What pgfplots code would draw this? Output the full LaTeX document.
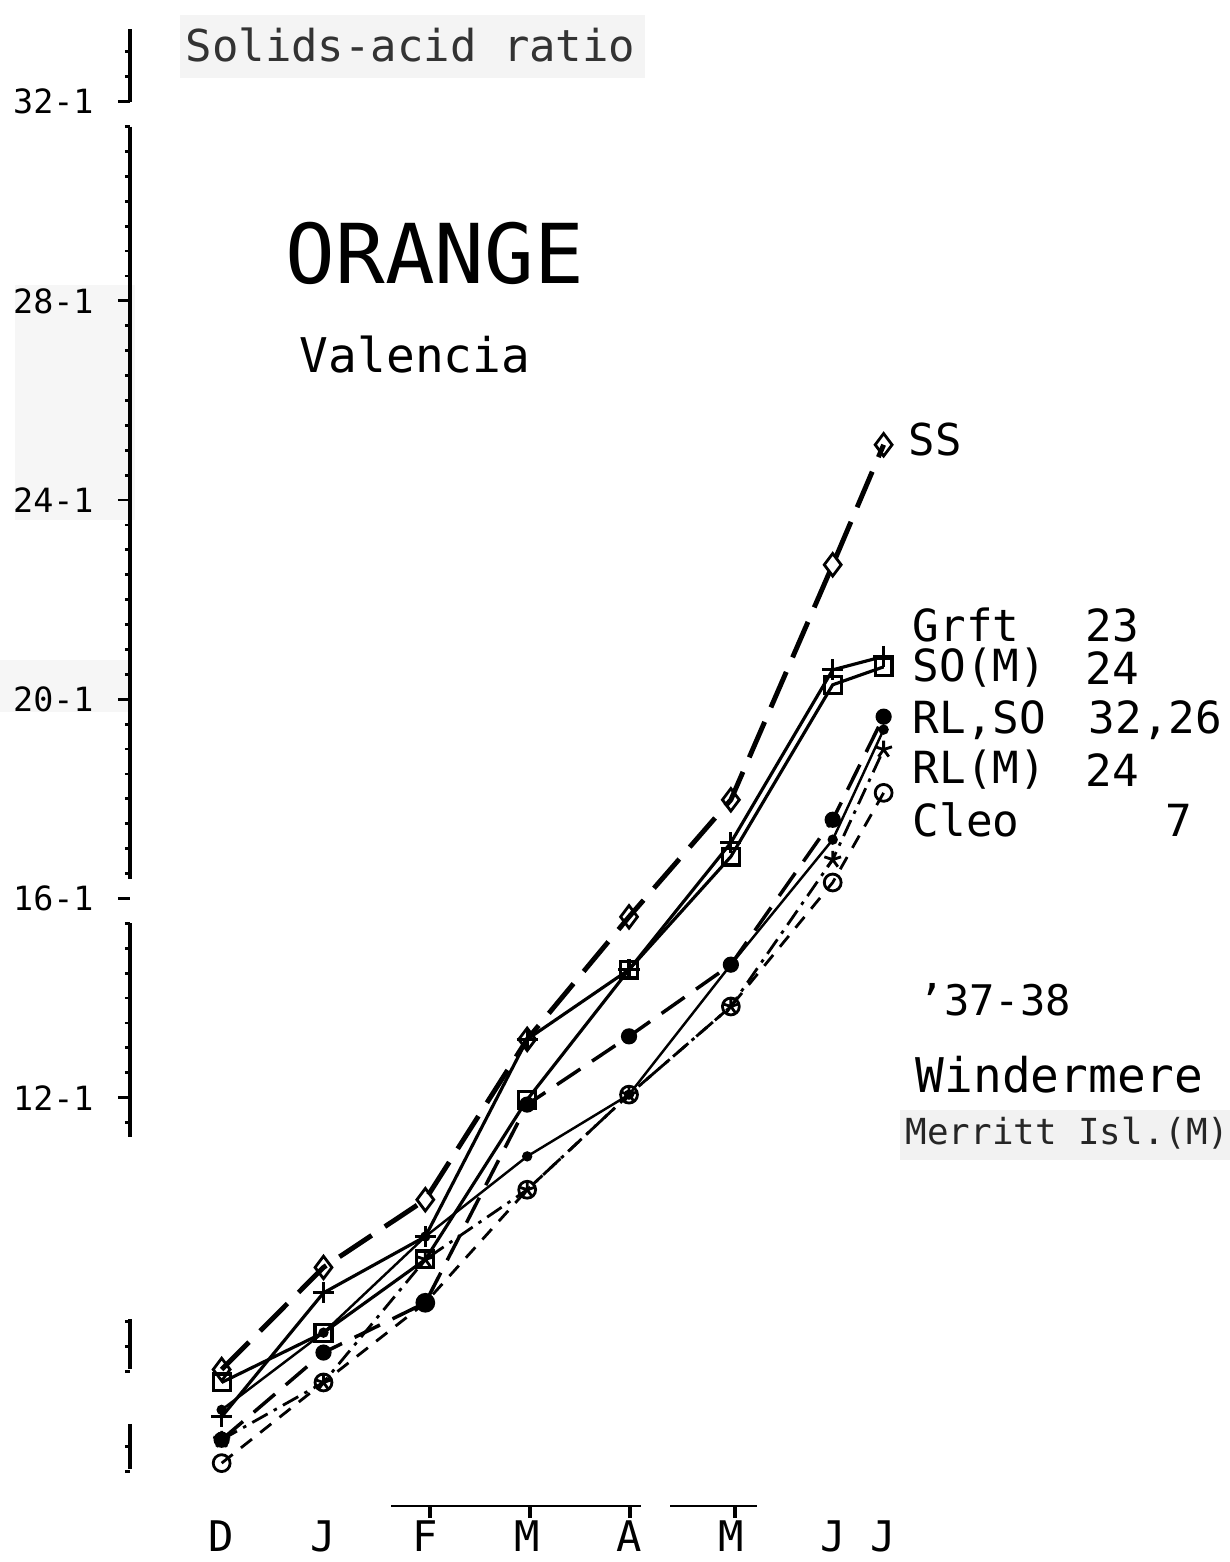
\documentclass[border=0pt]{standalone}
\usepackage{fontspec}
\setmainfont{DejaVu Sans Mono}
\setmonofont{DejaVu Sans Mono}
\usepackage{pgfplots}
\pgfplotsset{compat=1.18}

% solids-acid ratio, Valencia orange, '37-38
% x: 0=D 1=J 2=F 3=M 4=A 5=M 6=J 6.5=end
\pgfplotstableread{
x    SS     Grft   SOM    RL     SO     RLM    Cleo
0    6.54   5.59   6.28   5.13   5.73   5.13   4.66
1    8.59   8.08   7.28   6.88   7.28   6.28   6.28
2    9.95   9.21   8.75   7.88   9.21   8.75   7.88
3   13.17  13.17  11.96  11.86  10.82  10.15  10.15
4   15.63  14.57  14.57  13.23  12.06  12.06  12.06
5   17.98  17.12  16.84  14.67  14.67  13.83  13.83
6   22.70  20.59  20.29  17.58  17.18  16.78  16.32
6.5 25.11  20.86  20.65  19.65  19.39  18.99  18.12
}\ratios

\begin{document}
\begin{tikzpicture}
\path[use as bounding box] (0,0) rectangle (123mm,156.2mm);

% faint scan patches
\begin{scope}[x=0.1mm,y=-0.1mm,yshift=156.2mm]
  \fill[gray!7] (15,285) rectangle (135,520);
  \fill[gray!7] (0,660) rectangle (128,712);
  \fill[gray!9] (180,15) rectangle (645,78);
  \fill[gray!10] (900,1110) rectangle (1230,1160);
\end{scope}

\begin{axis}[
    at={(13mm,6.6mm)}, anchor=south west,
    scale only axis, width=77.4mm, height=146.9mm,
    xmin=-0.9, xmax=6.7, ymin=4, ymax=33.5,
    clip=false,
    axis line style={draw=none},
    xtick={0,1,2,3,4,5,6,6.5},
    xticklabels={D,J,F,M,A,M,J,J},
    xtick style={draw=none},
    xticklabel style={font=\fontsize{12}{14}\selectfont, yshift=0mm},
    ytick={12,16,20,24,28,32},
    yticklabels={12-1,16-1,20-1,24-1,28-1,32-1},
    minor ytick={4.5,5,6.5,7,7.5,11.5,12,...,16,16.5,17,...,32,32.5,33},
    ytick pos=left, tick align=outside,
    major tick length=1.2mm, minor tick length=0.5mm,
    ytick style={line width=0.8pt, black},
    minor tick style={line width=1pt},
    yticklabel style={font=\fontsize{9.5}{11}\selectfont, xshift=-1.2mm},
]
  \draw[line width=0.9pt] (axis cs:-0.9,33.45) -- (axis cs:-0.9,32.0);
  \draw[line width=0.9pt] (axis cs:-0.9,31.5) -- (axis cs:-0.9,16.4);
  \draw[line width=0.9pt] (axis cs:-0.9,15.5) -- (axis cs:-0.9,11.2);
  \draw[line width=0.9pt] (axis cs:-0.9,7.55) -- (axis cs:-0.9,6.55);
  \draw[line width=0.9pt] (axis cs:-0.9,5.45) -- (axis cs:-0.9,4.55);

  \addplot[black, line width=1.4pt, dash pattern=on 11pt off 4.5pt,
           mark=diamond, mark size=3.2pt,
           mark options={solid, fill=white, line width=0.8pt}]
    table[x=x, y=SS] {\ratios};
  \addplot[black, line width=0.9pt, mark=+, mark size=3pt,
           mark options={solid}]
    table[x=x, y=Grft] {\ratios};
  \addplot[black, line width=0.9pt, mark=square, mark size=2.4pt,
           mark options={solid, fill=white}]
    table[x=x, y=SOM] {\ratios};
  \addplot[black, line width=1pt, dash pattern=on 8pt off 4pt,
           mark=*, mark size=1.8pt, mark options={solid}]
    table[x=x, y=RL] {\ratios};
  \addplot[black, line width=0.7pt, mark=*, mark size=1.1pt]
    table[x=x, y=SO] {\ratios};
  \addplot[black, line width=0.8pt, dash pattern=on 5pt off 2pt on 1pt off 2pt,
           mark=star, mark size=2.5pt, mark options={solid}]
    table[x=x, y=RLM] {\ratios};
  \addplot[black, line width=0.8pt, dash pattern=on 4pt off 3pt,
           mark=o, mark size=2.4pt, mark options={solid, fill=white}]
    table[x=x, y=Cleo] {\ratios};
\end{axis}

\begin{scope}[x=0.1mm,y=-0.1mm,yshift=156.2mm]
  % broken month axis
  \draw[line width=0.8pt] (391,1506) -- (641,1506);
  \draw[line width=0.8pt] (670,1506) -- (757,1506);
  \foreach \t in {430,530,630,735} \draw[line width=0.9pt] (\t,1506) -- (\t,1518);

  \node[anchor=west, inner sep=0pt, text=black!80,
        font=\fontsize{12.5}{14}\selectfont] at (185,45) {Solids-acid ratio};
  \node[inner sep=0pt, font=\fontsize{23.5}{26}\selectfont] at (435,253) {ORANGE};
  \node[inner sep=0pt, font=\fontsize{13.6}{15}\selectfont] at (415,355) {Valencia};
  \node[anchor=west, inner sep=0pt, font=\fontsize{12.5}{14}\selectfont] at (908,440) {SS};

  \begin{scope}[every node/.style={anchor=west, inner sep=0pt,
                 font=\fontsize{12.6}{14}\selectfont}]
    \node at (912,625) {Grft};   \node at (1085,625) {23};
    \node at (912,668) {SO(M)};  \node at (1085,668) {24};
    \node at (912,720) {RL,SO};  \node at (1088,720) {32,26};
    \node at (912,770) {RL(M)};  \node at (1085,770) {24};
    \node at (912,820) {Cleo};   \node at (1165,820) {7};
  \end{scope}

  \node[anchor=west, inner sep=0pt, font=\fontsize{12}{14}\selectfont] at (918,1000) {’37-38};
  \node[anchor=west, inner sep=0pt, font=\fontsize{13.6}{15}\selectfont] at (915,1075) {Windermere};
  \node[anchor=west, inner sep=0pt, text=black!85,
        font=\fontsize{10.2}{12}\selectfont] at (905,1133) {Merritt Isl.(M)};
\end{scope}
\end{tikzpicture}
\end{document}
